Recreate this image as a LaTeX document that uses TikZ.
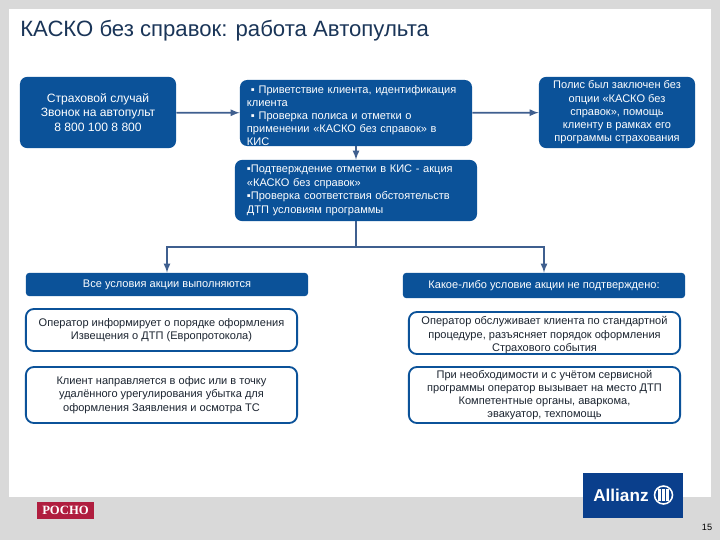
\documentclass[tikz,border=0pt]{standalone}
\usepackage{fontspec}
\setmainfont{Liberation Sans}
\newfontfamily\rosnofont{Liberation Serif}
\usepackage{xcolor}
\usepackage{tikz}
\usetikzlibrary{arrows}
\usetikzlibrary{positioning}
\definecolor{slidegrey}{HTML}{D9D9D9}
\definecolor{boxblue}{HTML}{0B5299}
\definecolor{linkblue}{HTML}{3F5F8F}
\definecolor{titleblue}{HTML}{1A3558}
\definecolor{inkdark}{HTML}{1B2430}
\definecolor{allianzblue}{HTML}{0A3F8C}
\definecolor{roschored}{HTML}{B01E3F}
\newcommand{\firstdrop}{\rule{0pt}{9pt}}
\tikzset{
  filledbox/.style={rectangle, rounded corners=0.18cm, fill=boxblue, text=white, inner sep=0pt, align=center,
    font=\fontsize{7.85}{9.4}\selectfont},
  headbox/.style={filledbox, rounded corners=0.08cm},
  outlinebox/.style={rectangle, rounded corners=0.2cm, draw=boxblue, line width=1.3pt, fill=white, text=inkdark, inner sep=0pt, align=center,
    font=\fontsize{7.85}{9.4}\selectfont},
  link/.style={-latex, draw=linkblue, line width=1.2pt},
}
\begin{document}
\begin{tikzpicture}[x=0.025cm, y=-0.025cm]
\fill [slidegrey] (0,0) rectangle (720,540);
\fill [white] (9,9) rectangle (711,497);
\node [anchor=west, text=titleblue, font=\fontsize{15.75}{18}\selectfont, inner sep=0pt] (title) at (20,31) {КАСКО без справок: работа Автопульта};
% top row
\node [filledbox, minimum width=3.9cm, minimum height=1.78cm, font=\fontsize{8.6}{10.3}\selectfont] (call) at (98,112.5) {Страховой случай\\Звонок на автопульт\\8 800 100 8 800};
\node [filledbox, minimum width=5.8cm, minimum height=1.65cm, text width=5.45cm, align=left, font=\fontsize{7.85}{9.25}\selectfont] (greet) at (356,113) {\firstdrop\hspace*{0.1cm}▪ Приветствие клиента, идентификация\\клиента\\\hspace*{0.1cm}▪ Проверка полиса и отметки о\\применении «КАСКО без справок» в\\КИС};
\node [filledbox, minimum width=3.9cm, minimum height=1.78cm] (policy) at (617,112.5) {Полис был заключен без\\опции «КАСКО без\\справок», помощь\\клиенту в рамках его\\программы страхования};
\node [filledbox, minimum width=6.05cm, minimum height=1.53cm, text width=5.45cm, align=left, font=\fontsize{7.85}{9.6}\selectfont] (check) at (356,190.5) {▪Подтверждение отметки в КИС - акция\\«КАСКО без справок»\\▪Проверка соответствия обстоятельств\\ДТП условиям программы};
\coordinate (split) at (356,247);
% two branches
\node [headbox, minimum width=7.05cm, minimum height=0.58cm] (allok) at (167,284.5) {Все условия акции выполняются};
\node [headbox, minimum width=7.05cm, minimum height=0.63cm] (notok) at (544,285.5) {Какое-либо условие акции не подтверждено:};
\node [outlinebox, minimum width=6.78cm, minimum height=1.05cm] (inform) at (161.5,330) {Оператор информирует о порядке оформления\\Извещения о ДТП (Европротокола)};
\node [outlinebox, minimum width=6.78cm, minimum height=1.4cm] (office) at (161.5,395) {Клиент направляется в офис или в точку\\удалённого урегулирования убытка для\\оформления Заявления и осмотра ТС};
\node [outlinebox, minimum width=6.78cm, minimum height=1.05cm] (service) at (544.5,333) {\firstdrop Оператор обслуживает клиента по стандартной\\процедуре, разъясняет порядок оформления\\Страхового события};
\node [outlinebox, minimum width=6.78cm, minimum height=1.4cm] (dispatch) at (544.5,395) {При необходимости и с учётом сервисной\\программы оператор вызывает на место ДТП\\Компетентные органы, аваркома,\\эвакуатор, техпомощь};
% logos
\node [rectangle, fill=roschored, text=white, minimum width=1.43cm, minimum height=0.42cm, inner sep=0pt, font=\rosnofont\fontsize{9}{10}\selectfont\bfseries] (rosno) at (65.5,510.5) {РОСНО};
\node [rectangle, fill=allianzblue, minimum width=2.5cm, minimum height=1.13cm] (allianz) at (633,495.5) {};
\node [anchor=west, text=white, inner sep=0pt, font=\fontsize{12.2}{13}\selectfont\bfseries] (allianzname) at (593,495) {Allianz};
\draw [white, line width=1.1pt] (663.5,495) circle (9);
\foreach \xbar in {659.5,663.5,667.5}
  \draw [white, line width=1.5pt] (\xbar,489) -- (\xbar,501);
\node [text=black, inner sep=0pt, font=\fontsize{6.5}{7}\selectfont] (pageno) at (707,527) {15};
% connectors
\draw [link] (call) to (greet);
\draw [link] (greet) to (policy);
\draw [link] (greet) to (check);
\draw [draw=linkblue, line width=1.2pt] (check) to (split);
\draw [link] (split) -| (allok);
\draw [link] (split) -| (notok);
\end{tikzpicture}
\end{document}
